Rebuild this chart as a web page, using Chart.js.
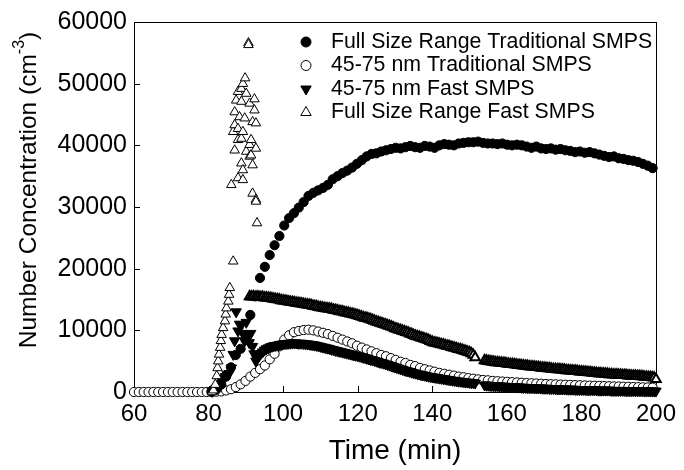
<!DOCTYPE html>
<html>
<head>
<meta charset="utf-8">
<script src="https://cdn.jsdelivr.net/npm/chart.js@4.4.1/dist/chart.umd.min.js"></script>
<style>
  html, body { margin: 0; padding: 0; background: #fff; }
  canvas { display: block; }
</style>
</head>
<body>
<canvas id="chart" width="684" height="470"></canvas>
<script>
// tick labels
const xTicks = [60, 80, 100, 120, 140, 160, 180, 200];
const yTicks = [0, 10000, 20000, 30000, 40000, 50000, 60000];

// traditional SMPS scans (min)
const tradTime = [60, 61.3, 62.6, 63.9, 65.2, 66.5, 67.8, 69.1, 70.4, 71.7, 73, 74.3, 75.6, 76.9, 78.2, 79.5,
  80.8, 82.1, 83.4, 84.7, 86, 87.3, 88.6, 89.9, 91.2, 92.5, 93.8, 95.1, 96.4, 97.7, 99, 100.3, 101.6, 102.9, 104.2, 105.5,
  106.8, 108.1, 109.4, 110.7, 112, 113.3, 114.6, 115.9, 117.2, 118.5, 119.8, 121.1, 122.4, 123.7, 125, 126.3, 127.6, 128.9,
  130.2, 131.5, 132.8, 134.1, 135.4, 136.7, 138, 139.3, 140.6, 141.9, 143.2, 144.5, 145.8, 147.1, 148.4, 149.7, 151, 152.3,
  153.6, 154.9, 156.2, 157.5, 158.8, 160.1, 161.4, 162.7, 164, 165.3, 166.6, 167.9, 169.2, 170.5, 171.8, 173.1, 174.4, 175.7,
  177, 178.3, 179.6, 180.9, 182.2, 183.5, 184.8, 186.1, 187.4, 188.7, 190, 191.3, 192.6, 193.9, 195.2, 196.5, 197.8, 199.1];

// Full Size Range Traditional SMPS
const fullTrad = [null, null, null, null, null, null, null, null, null, null, null, null, null, null, null, null,
  100, 400, 1200, 2500, 4000, 6000, 7000, 8500, 12500, 15500, 18500, 20300, 22200, 23800, 25300, 27000, 28200, 29000, 29900, 30800,
  31800, 32300, 32700, 33100, 33600, 34500, 35000, 35500, 35900, 36400, 37000, 37600, 38200, 38600, 38700, 39000, 39200, 39400,
  39600, 39500, 39700, 39900, 39700, 39600, 39900, 39800, 39600, 40000, 40200, 40100, 40000, 40300, 40400, 40500, 40500, 40600,
  40400, 40300, 40300, 40200, 40300, 40100, 40000, 40100, 40000, 39800, 39600, 39800, 39500, 39400, 39500, 39300, 39400, 39200,
  39100, 38900, 39000, 38800, 38900, 38700, 38500, 38300, 38100, 38200, 37900, 37800, 37600, 37500, 37300, 37000, 36700, 36300];

// 45-75 nm Traditional SMPS
const smallTrad = [0, 0, 0, 0, 0, 0, 0, 0, 0, 0, 0, 0, 0, 0, 0, 0,
  0, 50, 100, 250, 450, 800, 1250, 1800, 2500, 3100, 3700, 4300, 5300, 6200, 7400, 8500, 9200, 9700, 9900, 10050,
  10100, 10000, 9800, 9600, 9400, 9100, 8800, 8500, 8200, 7900, 7500, 7200, 6900, 6600, 6300, 6000, 5800, 5500,
  5200, 4900, 4700, 4400, 4200, 3900, 3700, 3500, 3300, 3100, 2950, 2800, 2650, 2500, 2400, 2250, 2150, 2050,
  1950, 1900, 1800, 1750, 1700, 1650, 1600, 1550, 1500, 1450, 1420, 1380, 1340, 1300, 1270, 1240, 1210, 1180,
  1150, 1120, 1100, 1070, 1040, 1010, 990, 960, 940, 910, 890, 860, 840, 810, 790, 760, 740, 710];

// fast SMPS, onset and peak scans
const peakTime = [80.9, 81.3, 81.8, 82.2, 82.4, 82.6, 82.8, 83.1, 83.3, 83.5, 83.9, 84.4, 84.6, 84.8, 85.3, 85.5, 85.7,
  86.1, 86.6, 86.6, 87.0, 87.0, 87.0, 87.4, 87.9, 87.9, 87.9, 87.9, 88.3, 88.8, 88.8, 88.8, 88.8, 89.2, 89.2, 89.2, 89.2,
  89.7, 89.8, 90.1, 90.1, 90.7, 90.7, 91.0, 91.0, 91.0, 91.4, 91.4, 91.8, 91.8, 91.8, 92.3, 92.3, 92.7, 92.7, 92.7, 92.7, 93.0];
const peakFull = [0, 300, 1200, 2600, 3900, 5000, 6100, 7200, 8300, 9300, 10400, 11500, 12600, 13600, 14700, 15800, 16900,
  33600, 21200, 42200, 45400, 43300, 39200, 47300, 48700, 42700, 40900, 34700, 44600, 49200, 47100, 41100, 37100, 50000, 42200, 36000, 34400,
  44400, 50900, 48400, 39000, 56600, 56300, 46800, 40100, 38200, 40900, 38400, 43800, 36800, 32200, 47500, 45700, 43600, 39500, 31200, 30900, 27400];
const onsetTime = [81.0, 81.5, 82.0, 82.5, 83.0, 83.5, 84.0, 84.5, 85.0, 85.5, 86.1, 86.6, 87.0, 87.4, 87.9, 88.3, 88.8,
  89.2, 89.7, 90.1, 90.5, 90.9, 91.3, 91.8, 92.2, 92.7, 93.0];
const onsetSmall = [100, 300, 600, 900, 1300, 1800, 2200, 2500, 2800, 3000, 3900, 6100, 8300, 13000, 9900, 11000, 10900,
  9500, 8300, 11300, 9000, 8000, 9500, 7400, 6200, 5000, 5400];

// fast SMPS after the peak, every 0.5 min (no data 152-153.5)
const fastTime = [91, 91.5, 92, 92.5, 93, 93.5, 94, 94.5, 95,
  95.5, 96, 96.5, 97, 97.5, 98, 98.5, 99, 99.5, 100,
  100.5, 101, 101.5, 102, 102.5, 103, 103.5, 104, 104.5, 105,
  105.5, 106, 106.5, 107, 107.5, 108, 108.5, 109, 109.5, 110,
  110.5, 111, 111.5, 112, 112.5, 113, 113.5, 114, 114.5, 115,
  115.5, 116, 116.5, 117, 117.5, 118, 118.5, 119, 119.5, 120,
  120.5, 121, 121.5, 122, 122.5, 123, 123.5, 124, 124.5, 125,
  125.5, 126, 126.5, 127, 127.5, 128, 128.5, 129, 129.5, 130,
  130.5, 131, 131.5, 132, 132.5, 133, 133.5, 134, 134.5, 135,
  135.5, 136, 136.5, 137, 137.5, 138, 138.5, 139, 139.5, 140,
  140.5, 141, 141.5, 142, 142.5, 143, 143.5, 144, 144.5, 145,
  145.5, 146, 146.5, 147, 147.5, 148, 148.5, 149, 149.5, 150,
  150.5, 151, 151.5,
  154, 154.5, 155,
  155.5, 156, 156.5, 157, 157.5, 158, 158.5, 159, 159.5, 160,
  160.5, 161, 161.5, 162, 162.5, 163, 163.5, 164, 164.5, 165,
  165.5, 166, 166.5, 167, 167.5, 168, 168.5, 169, 169.5, 170,
  170.5, 171, 171.5, 172, 172.5, 173, 173.5, 174, 174.5, 175,
  175.5, 176, 176.5, 177, 177.5, 178, 178.5, 179, 179.5, 180,
  180.5, 181, 181.5, 182, 182.5, 183, 183.5, 184, 184.5, 185,
  185.5, 186, 186.5, 187, 187.5, 188, 188.5, 189, 189.5, 190,
  190.5, 191, 191.5, 192, 192.5, 193, 193.5, 194, 194.5, 195,
  195.5, 196, 196.5, 197, 197.5, 198, 198.5, 199, 199.5, 200];

// Full Size Range Fast SMPS
const fastFull = [15500, 15450, 15500, 15400, 15450, 15400, 15350, 15400, 15300,
  15300, 15250, 15200, 15150, 15100, 15050, 15000, 14950, 14850, 14800,
  14750, 14700, 14650, 14600, 14550, 14500, 14450, 14400, 14350, 14300,
  14250, 14200, 14150, 14100, 14050, 13950, 13900, 13850, 13750, 13700,
  13650, 13600, 13550, 13500, 13450, 13400, 13300, 13250, 13200, 13100,
  13050, 13000, 12900, 12850, 12800, 12700, 12650, 12550, 12500, 12400,
  12300, 12200, 12100, 12000, 11950, 11850, 11750, 11650, 11500, 11400,
  11300, 11200, 11100, 11000, 10900, 10800, 10700, 10600, 10450, 10300,
  10200, 10100, 10000, 9900, 9800, 9700, 9600, 9450, 9350, 9200,
  9100, 9000, 8900, 8800, 8700, 8600, 8500, 8400, 8250, 8100,
  8000, 7950, 7850, 7800, 7700, 7650, 7550, 7450, 7400, 7300,
  7200, 7150, 7050, 6950, 6900, 6800, 6700, 6600, 6500, 6400,
  6250, 6000, 5600,
  5100, 5050, 5000,
  4950, 4900, 4850, 4800, 4800, 4750, 4700, 4650, 4650, 4600,
  4550, 4500, 4500, 4450, 4400, 4350, 4350, 4300, 4250, 4200,
  4200, 4150, 4100, 4100, 4050, 4000, 4000, 3950, 3900, 3900,
  3850, 3800, 3800, 3750, 3700, 3700, 3650, 3650, 3600, 3600,
  3550, 3500, 3500, 3450, 3450, 3400, 3400, 3350, 3300, 3300,
  3250, 3250, 3200, 3150, 3150, 3100, 3100, 3050, 3000, 3000,
  2950, 2950, 2900, 2900, 2850, 2850, 2800, 2800, 2800, 2750,
  2750, 2700, 2700, 2700, 2650, 2650, 2600, 2600, 2600, 2550,
  2550, 2500, 2500, 2450, 2450, 2400, 2400, 2350, 2300, 2050];

// 45-75 nm Fast SMPS
const fastSmall = [null, null, null, null, null, 5800, 6200, 6500, 6800,
  7000, 7150, 7300, 7400, 7500, 7550, 7600, 7700, 7750, 7800,
  7850, 7850, 7900, 7900, 7950, 7950, 7950, 7900, 7900, 7900,
  7850, 7800, 7800, 7750, 7700, 7650, 7600, 7550, 7450, 7400,
  7300, 7250, 7150, 7100, 7000, 6900, 6850, 6750, 6700, 6600,
  6550, 6450, 6400, 6300, 6250, 6150, 6100, 6000, 5950, 5850,
  5800, 5700, 5600, 5550, 5450, 5350, 5250, 5200, 5100, 5000,
  4900, 4800, 4750, 4650, 4550, 4450, 4350, 4250, 4150, 4050,
  3950, 3850, 3750, 3650, 3550, 3450, 3400, 3300, 3200, 3100,
  3050, 2950, 2900, 2800, 2750, 2700, 2600, 2550, 2500, 2450,
  2400, 2350, 2300, 2250, 2200, 2150, 2100, 2050, 2000, 1950,
  1900, 1850, 1800, 1750, 1750, 1700, 1650, 1600, 1600, 1550,
  1500, 1500, 1450,
  1150, 1100, 1100,
  1050, 1050, 1000, 1000, 1000, 950, 950, 950, 900, 900,
  900, 850, 850, 850, 800, 800, 800, 750, 750, 750,
  700, 700, 700, 700, 650, 650, 650, 650, 600, 600,
  600, 600, 550, 550, 550, 550, 500, 500, 500, 500,
  500, 450, 450, 450, 450, 450, 400, 400, 400, 400,
  400, 400, 350, 350, 350, 350, 350, 350, 300, 300,
  300, 300, 300, 300, 300, 250, 250, 250, 250, 250,
  250, 250, 250, 200, 200, 200, 200, 200, 200, 200,
  200, 200, 200, 150, 150, 150, 150, 150, 150, 150];

const seriesLabels = [
  'Full Size Range Traditional SMPS',
  '45-75 nm Traditional SMPS',
  '45-75 nm Fast SMPS',
  'Full Size Range Fast SMPS'
];
const xTitle = 'Time (min)';
const yTitleParts = ['Number Concentration (cm', '-3', ')'];

const FONT = '"Liberation Sans", Arial, Helvetica, sans-serif';
Chart.defaults.font.family = FONT;
Chart.defaults.color = '#000';

function toPoints(xs, ys) {
  return xs.map((t, i) => ({ x: t, y: ys[i] })).filter((p) => p.y !== null);
}

// frame, inward ticks and rotated y title
const framePlugin = {
  id: 'framePlugin',
  beforeDatasetsDraw(chart) {
    const { ctx, chartArea: a, scales } = chart;
    ctx.save();
    ctx.strokeStyle = '#000';
    ctx.lineWidth = 1;
    ctx.strokeRect(Math.round(a.left) + 0.5, Math.round(a.top) + 0.5,
      Math.round(a.right - a.left), Math.round(a.bottom - a.top));
    ctx.beginPath();
    xTicks.forEach((v) => {
      const px = Math.round(scales.x.getPixelForValue(v)) + 0.5;
      ctx.moveTo(px, a.bottom);
      ctx.lineTo(px, a.bottom - 6);
    });
    yTicks.forEach((v) => {
      const py = Math.round(scales.y.getPixelForValue(v)) + 0.5;
      ctx.moveTo(a.left, py);
      ctx.lineTo(a.left + 6, py);
    });
    ctx.stroke();

    // y axis title with superscript
    ctx.translate(29, 190);
    ctx.rotate(-Math.PI / 2);
    ctx.fillStyle = '#000';
    ctx.textBaseline = 'middle';
    ctx.textAlign = 'left';
    const big = '24.5px ' + FONT;
    const small = '16px ' + FONT;
    ctx.font = big;
    const w0 = ctx.measureText(yTitleParts[0]).width;
    const w2 = ctx.measureText(yTitleParts[2]).width;
    ctx.font = small;
    const w1 = ctx.measureText(yTitleParts[1]).width;
    const x0 = -(w0 + w1 + w2) / 2;
    ctx.font = big;
    ctx.fillText(yTitleParts[0], x0, 0);
    ctx.font = small;
    ctx.fillText(yTitleParts[1], x0 + w0, -9);
    ctx.font = big;
    ctx.fillText(yTitleParts[2], x0 + w0 + w1, 0);
    ctx.restore();
  }
};

// legend inside the plot, top right
const legendPlugin = {
  id: 'legendPlugin',
  afterDraw(chart) {
    const ctx = chart.ctx;
    ctx.save();
    ctx.font = '21.3px ' + FONT;
    ctx.textBaseline = 'middle';
    ctx.textAlign = 'left';
    chart.data.datasets.forEach((ds, i) => {
      const y = 42 + i * 23.5;
      ctx.fillStyle = ds.pointBackgroundColor;
      ctx.strokeStyle = ds.pointBorderColor;
      ctx.lineWidth = 1;
      Chart.helpers.drawPoint(ctx, {
        pointStyle: ds.pointStyle,
        rotation: ds.pointRotation || 0,
        radius: ds.legendRadius,
        borderWidth: 1
      }, 306, y);
      ctx.fillStyle = '#000';
      ctx.fillText(ds.label, 331, y);
    });
    ctx.restore();
  }
};

new Chart(document.getElementById('chart').getContext('2d'), {
  type: 'scatter',
  data: {
    datasets: [
      {
        label: seriesLabels[0],
        data: toPoints(tradTime, fullTrad),
        pointStyle: 'circle',
        pointRadius: 4.6,
        legendRadius: 5,
        pointBackgroundColor: '#000',
        pointBorderColor: '#000',
        pointBorderWidth: 1,
        order: 2
      },
      {
        label: seriesLabels[1],
        data: toPoints(tradTime, smallTrad),
        pointStyle: 'circle',
        pointRadius: 4.6,
        legendRadius: 5,
        pointBackgroundColor: '#fff',
        pointBorderColor: '#000',
        pointBorderWidth: 1,
        order: 3
      },
      {
        label: seriesLabels[2],
        data: toPoints(onsetTime, onsetSmall).concat(toPoints(fastTime, fastSmall)),
        pointStyle: 'triangle',
        pointRotation: 180,
        pointRadius: 6,
        legendRadius: 6,
        pointBackgroundColor: '#000',
        pointBorderColor: '#000',
        pointBorderWidth: 1,
        order: 1
      },
      {
        label: seriesLabels[3],
        data: toPoints(peakTime, peakFull).concat(toPoints(fastTime, fastFull)),
        pointStyle: 'triangle',
        pointRadius: 5.5,
        legendRadius: 6,
        pointBackgroundColor: '#fff',
        pointBorderColor: '#000',
        // the dense post-peak scans merge into a dark band
        pointBorderWidth: (c) => (c.raw && c.raw.x > 90.9 && c.raw.y < 20000 ? 2 : 1),
        order: 0
      }
    ]
  },
  options: {
    responsive: false,
    animation: false,
    clip: false,
    layout: { padding: { top: 20, right: 19, bottom: 0, left: 0 } },
    plugins: {
      legend: { display: false },
      tooltip: { enabled: false }
    },
    scales: {
      x: {
        type: 'linear',
        min: 60,
        max: 200,
        afterBuildTicks: (s) => { s.ticks = xTicks.map((v) => ({ value: v })); },
        afterFit: (s) => { s.height = 78; },
        grid: { display: false, drawTicks: false },
        border: { display: false },
        ticks: { font: { size: 24 }, padding: 8, maxRotation: 0, callback: (v) => String(v) },
        title: { display: true, text: xTitle, font: { size: 28 }, padding: { top: 0, bottom: 2 } }
      },
      y: {
        type: 'linear',
        min: 0,
        max: 60000,
        afterBuildTicks: (s) => { s.ticks = yTicks.map((v) => ({ value: v })); },
        afterFit: (s) => { s.width = 134; },
        grid: { display: false, drawTicks: false },
        border: { display: false },
        ticks: { font: { size: 25 }, padding: 7, callback: (v) => String(v) }
      }
    }
  },
  plugins: [framePlugin, legendPlugin]
});
</script>
</body>
</html>
